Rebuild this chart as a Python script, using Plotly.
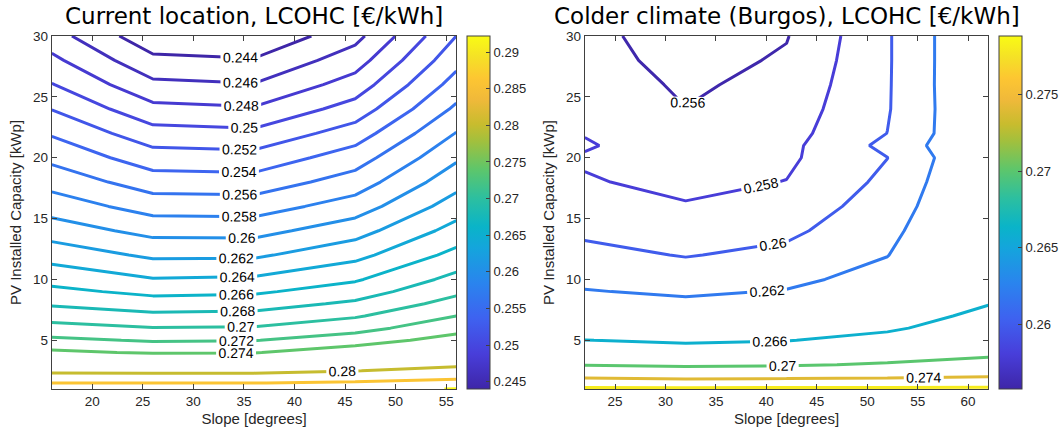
import plotly.graph_objects as go

# ---------------- data ----------------
left_slope = [16, 26, 36, 46, 56]
left_pv = [1, 1.5, 2, 2.5, 3, 4, 5, 6, 7, 8, 9, 10, 12, 14, 16, 18, 20, 22, 24, 26, 28, 30]
left_lcohc_16 = [0.2900, 0.2859, 0.2820, 0.2788, 0.2770, 0.2744, 0.27244, 0.27073, 0.26918, 0.26775, 0.2665,
                 0.26535, 0.26318, 0.26105, 0.25909, 0.25727, 0.2555, 0.25379, 0.25193, 0.2501, 0.24847, 0.24685]
left_lcohc_26 = [0.2900, 0.2859, 0.2820, 0.2786, 0.2768, 0.27378, 0.2718, 0.2701, 0.26845, 0.26693, 0.2655,
                 0.26412, 0.26163, 0.25936, 0.25715, 0.25499, 0.25291, 0.25078, 0.24857, 0.24646, 0.2445, 0.24258]
left_lcohc_36 = [0.2900, 0.2859, 0.2820, 0.2787, 0.2769, 0.2739, 0.27193, 0.27019, 0.26862, 0.26713, 0.26569,
                 0.26431, 0.26167, 0.2593, 0.25705, 0.25484, 0.25272, 0.25048, 0.24821, 0.24611, 0.24417, 0.24222]
left_lcohc_46 = [0.2905, 0.2867, 0.2830, 0.2799, 0.2780, 0.2752, 0.27304, 0.27133, 0.26979, 0.26836, 0.26704,
                 0.26577, 0.26339, 0.26118, 0.25894, 0.25691, 0.25502, 0.25296, 0.25083, 0.24887, 0.24708, 0.24536]
left_lcohc_56 = [0.2922, 0.2882, 0.2845, 0.2815, 0.2792, 0.2766, 0.2748, 0.27325, 0.2720, 0.27075, 0.2696,
                 0.2686, 0.2666, 0.26473, 0.26296, 0.26128, 0.25968, 0.25808, 0.25638, 0.25482, 0.25335, 0.2520]
left_levels = [0.244, 0.246, 0.248, 0.25, 0.252, 0.254, 0.256, 0.258, 0.26, 0.262, 0.264, 0.266,
               0.268, 0.27, 0.272, 0.274, 0.28, 0.286, 0.292]
left_cbar_ticks = [0.245, 0.25, 0.255, 0.26, 0.265, 0.27, 0.275, 0.28, 0.285, 0.29]
left_crange = [0.244, 0.2922]

right_slope = [22, 32, 42, 52, 62]
right_pv = [1, 1.5, 2, 2.5, 3, 4, 5, 6, 7, 8, 9, 10, 12, 14, 16, 18, 20, 21, 22, 24, 26, 28, 30]
right_lcohc_22 = [0.2787, 0.2759, 0.2735, 0.2715, 0.2698, 0.2677, 0.26604, 0.2648, 0.2638, 0.2629, 0.2621, 0.26158,
                  0.26053, 0.25965, 0.2590, 0.25815, 0.2578, 0.2582, 0.2579, 0.2575, 0.2571, 0.2568, 0.2566]
right_lcohc_32 = [0.2787, 0.2756, 0.2731, 0.2712, 0.2695, 0.2673, 0.2656, 0.2643, 0.2633, 0.2624, 0.26172, 0.2611,
                  0.2599, 0.25902, 0.25813, 0.25756, 0.25705, 0.2568, 0.25654, 0.25603, 0.2557, 0.2553, 0.2550]
right_lcohc_42 = [0.2787, 0.2758, 0.2733, 0.2714, 0.2697, 0.2676, 0.2659, 0.2647, 0.2637, 0.2628, 0.2621, 0.26157,
                  0.26049, 0.25958, 0.25881, 0.25804, 0.25766, 0.25748, 0.2573, 0.25695, 0.25659, 0.25623, 0.2559]
right_lcohc_52 = [0.2787, 0.2759, 0.2736, 0.2719, 0.2703, 0.2684, 0.2669, 0.2656, 0.2647, 0.2639, 0.2632, 0.2627,
                  0.26195, 0.26146, 0.26096, 0.26047, 0.25998, 0.26055, 0.26002, 0.25985, 0.25982, 0.2598, 0.2598]
right_lcohc_62 = [0.2788, 0.2760, 0.2740, 0.2724, 0.2711, 0.2693, 0.2683, 0.2675, 0.2667, 0.2659, 0.2657, 0.2654,
                  0.2650, 0.2647, 0.2645, 0.2644, 0.2643, 0.2643, 0.2643, 0.2644, 0.2645, 0.2645, 0.2645]
right_levels = [0.256, 0.258, 0.26, 0.262, 0.266, 0.27, 0.274, 0.278]
right_cbar_ticks = [0.26, 0.265, 0.27, 0.275]
right_crange = [0.2558, 0.2788]

left_x_ticks = [20, 25, 30, 35, 40, 45, 50, 55]
right_x_ticks = [25, 30, 35, 40, 45, 50, 55, 60]
y_ticks = [5, 10, 15, 20, 25, 30]

# ---------------- style ----------------
W, H = 1063, 436
PARULA = [
    (0.00, (62, 38, 168)), (0.10, (72, 62, 218)), (0.20, (62, 98, 240)), (0.30, (42, 132, 238)),
    (0.40, (20, 165, 220)), (0.46, (10, 180, 200)), (0.54, (44, 191, 160)), (0.62, (92, 198, 108)),
    (0.70, (160, 192, 62)), (0.75, (200, 188, 46)), (0.82, (240, 185, 58)), (0.88, (253, 198, 50)),
    (0.94, (245, 225, 38)), (1.00, (249, 251, 20)),
]
parula_scale = [[p, "rgb(%d,%d,%d)" % c] for p, c in PARULA]


def parula_at(f):
    f = min(max(f, 0.0), 1.0)
    for (p0, c0), (p1, c1) in zip(PARULA[:-1], PARULA[1:]):
        if p0 <= f <= p1:
            t = (f - p0) / (p1 - p0) if p1 > p0 else 0
            return "rgb(%d,%d,%d)" % tuple(round(a + (b - a) * t) for a, b in zip(c0, c1))
    return "rgb(%d,%d,%d)" % PARULA[-1][1]


def grid(cols, n):
    return [[c[i] for c in cols] for i in range(n)]


AX = "#404040"
FAM = "Liberation Sans, Arial"
TICKFONT = dict(family=FAM, size=13.5, color="#262626")
LABELFONT = dict(family=FAM, size=15, color="#262626")
y_top = 1 - 36 / H
y_bot = 1 - 389 / H
left_dom = [52 / W, 458 / W]
right_dom = [587 / W, 992 / W]

fig = go.Figure()

panels = [
    ("x", "y", left_slope, left_pv,
     [left_lcohc_16, left_lcohc_26, left_lcohc_36, left_lcohc_46, left_lcohc_56],
     left_levels, left_crange, left_cbar_ticks, 469 / W),
    ("x2", "y2", right_slope, right_pv,
     [right_lcohc_22, right_lcohc_32, right_lcohc_42, right_lcohc_52, right_lcohc_62],
     right_levels, right_crange, right_cbar_ticks, 1003 / W),
]

for xa, ya, xs, ys, cols, levels, crange, cticks, cbx in panels:
    z = grid(cols, len(ys))
    for lv in levels:
        col = parula_at((lv - crange[0]) / (crange[1] - crange[0]))
        fig.add_trace(go.Contour(
            x=xs, y=ys, z=z, xaxis=xa, yaxis=ya,
            autocontour=False,
            contours=dict(start=lv, end=lv, size=0.001, coloring="none", showlabels=True,
                          labelfont=dict(family=FAM, size=14, color="black"),
                          labelformat=".3~f"),
            line=dict(color=col, width=3, smoothing=0),
            showscale=False, hoverinfo="skip",
        ))
    fig.add_trace(go.Scatter(
        x=[xs[0], xs[0]], y=[ys[0], ys[0]], xaxis=xa, yaxis=ya, mode="markers",
        hoverinfo="skip",
        marker=dict(size=1, opacity=0, color=crange, cmin=crange[0], cmax=crange[1],
                    colorscale=parula_scale, showscale=True,
                    colorbar=dict(x=cbx, xanchor="left", y=y_top, yanchor="top",
                                  len=353, lenmode="pixels", thickness=23, thicknessmode="pixels",
                                  outlinewidth=1, outlinecolor=AX, ticks="inside", ticklen=4,
                                  tickcolor=AX, tickvals=cticks, tickformat=".3~f",
                                  tickfont=dict(family=FAM, size=13, color="#262626"),
                                  xpad=0, ypad=0)),
    ))

axis_common = dict(showline=True, linecolor=AX, linewidth=1, mirror="ticks", ticks="inside",
                   ticklen=5, tickcolor=AX, showgrid=False, zeroline=False, tickfont=TICKFONT,
                   automargin=False)

fig.update_layout(
    width=W, height=H, margin=dict(l=0, r=0, t=0, b=0),
    paper_bgcolor="white", plot_bgcolor="white", showlegend=False,
    xaxis=dict(domain=left_dom, range=[left_slope[0], left_slope[-1]], tickvals=left_x_ticks,
               anchor="y", title=dict(text="Slope [degrees]", font=LABELFONT, standoff=5), **axis_common),
    yaxis=dict(domain=[y_bot, y_top], range=[1, 30], tickvals=y_ticks, anchor="x",
               title=dict(text="PV Installed Capacity [kWp]", font=LABELFONT, standoff=7), **axis_common),
    xaxis2=dict(domain=right_dom, range=[right_slope[0], right_slope[-1]], tickvals=right_x_ticks,
                anchor="y2", title=dict(text="Slope [degrees]", font=LABELFONT, standoff=5), **axis_common),
    yaxis2=dict(domain=[y_bot, y_top], range=[1, 30], tickvals=y_ticks, anchor="x2",
                title=dict(text="PV Installed Capacity [kWp]", font=LABELFONT, standoff=7), **axis_common),
    annotations=[
        dict(text="Current location, LCOHC [€/kWh]", x=sum(left_dom) / 2, y=1 - 16 / H,
             xref="paper", yref="paper", showarrow=False, xanchor="center", yanchor="middle",
             font=dict(family="DejaVu Sans", size=23, color="black")),
        dict(text="Colder climate (Burgos), LCOHC [€/kWh]", x=sum(right_dom) / 2, y=1 - 16 / H,
             xref="paper", yref="paper", showarrow=False, xanchor="center", yanchor="middle",
             font=dict(family="DejaVu Sans", size=23, color="black")),
    ],
)

fig.write_html("out.html", config={"displayModeBar": False},
               post_script="document.body.style.margin='0';")
